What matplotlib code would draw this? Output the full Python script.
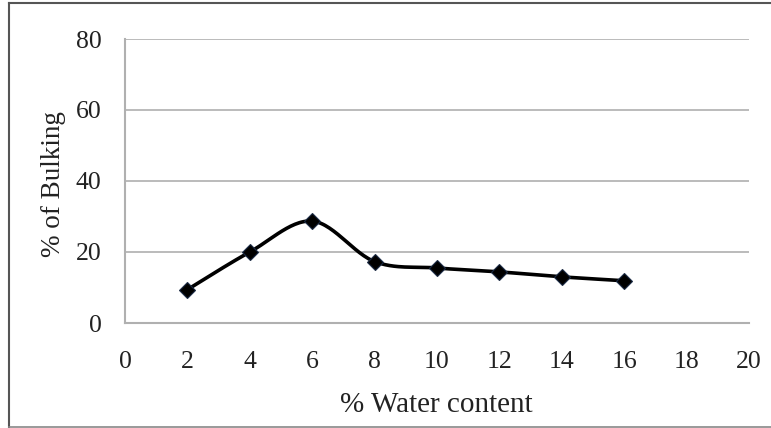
import numpy as np
import matplotlib
matplotlib.use("Agg")
import matplotlib.pyplot as plt
from matplotlib.lines import Line2D

water = [2, 4, 6, 8, 10, 12, 14, 16]
bulking = [9.4, 20.0, 28.7, 17.3, 15.5, 14.4, 13.0, 11.9]
x_ticks = [0, 2, 4, 6, 8, 10, 12, 14, 16, 18, 20]
y_ticks = [0, 20, 40, 60, 80]

def catmull_rom(xs, ys, n=30, tension=0.5):
    xs = np.asarray(xs, float); ys = np.asarray(ys, float)
    px = np.concatenate([[xs[0]], xs, [xs[-1]]])
    py = np.concatenate([[ys[0]], ys, [ys[-1]]])
    ox, oy = [], []
    for i in range(1, len(px) - 2):
        p0 = np.array([px[i-1], py[i-1]]); p1 = np.array([px[i], py[i]])
        p2 = np.array([px[i+1], py[i+1]]); p3 = np.array([px[i+2], py[i+2]])
        c1 = p1 + (p2 - p0) * tension / 3
        c2 = p2 - (p3 - p1) * tension / 3
        t = np.linspace(0, 1, n)[:, None]
        b = (1-t)**3*p1 + 3*(1-t)**2*t*c1 + 3*(1-t)*t**2*c2 + t**3*p2
        ox.extend(b[:, 0]); oy.extend(b[:, 1])
    return ox, oy

plt.rcParams['font.family'] = ['Liberation Serif', 'DejaVu Serif']

fig = plt.figure(figsize=(7.71, 4.28), dpi=100)
ax = fig.add_axes([125/771, 1-323/428, (749-125)/771, (323-39)/428])

sx, sy = catmull_rom(water, bulking)
ax.plot(sx, sy, color='black', lw=2.6, solid_capstyle='round', zorder=3)
ax.plot(water, bulking, linestyle='none', marker='D', ms=8.5,
        mfc='black', mec='#1a2a44', mew=0.8, zorder=4)

ax.set_xlim(0, 20)
ax.set_ylim(0, 80)
ax.set_xticks(x_ticks)
ax.set_yticks(y_ticks)
ax.set_xticklabels([str(v) for v in x_ticks])
ax.set_yticklabels([str(v) for v in y_ticks])
ax.tick_params(length=0, labelsize=18.5, colors='#222222')
ax.tick_params(axis='x', pad=20)
ax.tick_params(axis='y', pad=17)
ax.yaxis.grid(True, color='#a8a8a8', lw=1.1)
ax.set_axisbelow(True)
for s in ['top', 'right']:
    ax.spines[s].set_visible(False)
for s in ['left', 'bottom']:
    ax.spines[s].set_color('#b0b0b0')
    ax.spines[s].set_linewidth(1.5)

fig.text(436/771, 1-405/428, '% Water content', fontsize=21, color='#222222',
         ha='center', va='center')
fig.text(54/771, 1-184/428, '% of Bulking', fontsize=19.5, color='#222222',
         ha='center', va='center', rotation=90)

# outer frame (left, top, bottom)
fig.add_artist(Line2D([9/771, 9/771], [0, 1-3/428], color='#555555', lw=1.5))
fig.add_artist(Line2D([9/771, 1], [1-3/428, 1-3/428], color='#555555', lw=1.5))
fig.add_artist(Line2D([9/771, 1], [1-427/428, 1-427/428], color='#888888', lw=1.2))

fig.savefig('out.png', dpi=100)
